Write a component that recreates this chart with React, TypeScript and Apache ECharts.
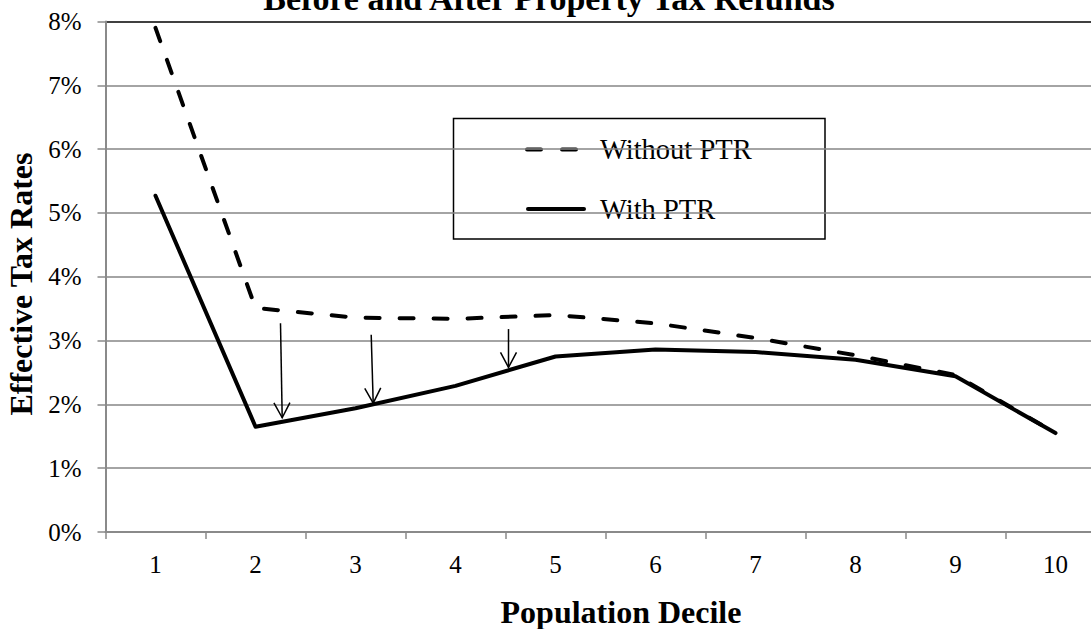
import React, { useEffect, useRef } from "react";
import * as echarts from "echarts";

// Population deciles on the horizontal axis
const deciles = ["1", "2", "3", "4", "5", "6", "7", "8", "9", "10"];

// Effective tax rates (%) per decile
const withoutPTR = [7.9, 3.51, 3.36, 3.34, 3.4, 3.27, 3.04, 2.77, 2.46, 1.55];
const withPTR = [5.27, 1.65, 1.94, 2.29, 2.75, 2.86, 2.82, 2.7, 2.44, 1.55];

// Refund arrows: [xStart, rateStart, xEnd, rateEnd] on a continuous decile scale
const refundArrows = [
  [2.25, 3.27, 2.267, 1.79],
  [3.157, 3.09, 3.177, 2.02],
  [4.53, 3.18, 4.53, 2.58],
];

// Y axis range (percent)
const yMin = 0;
const yMax = 8;
const yStep = 1;

const SERIF = '"Liberation Serif", "Times New Roman", Times, serif';
const GRID_GRAY = "#868686";

export default function App() {
  const ref = useRef<HTMLDivElement>(null);

  useEffect(() => {
    if (!ref.current) return;
    const chart = echarts.init(ref.current, undefined, { renderer: "svg" });

    const splitColors = new Array(9).fill(GRID_GRAY);
    splitColors[8] = "#000";

    chart.setOption({
      animation: false,
      backgroundColor: "#fff",
      textStyle: { fontFamily: SERIF, color: "#000" },
      grid: {
        left: 105.5,
        top: 21.5,
        width: 1000,
        height: 510.5,
        containLabel: false,
        outerBoundsMode: "none",
      },
      xAxis: [
        {
          type: "category",
          data: deciles,
          boundaryGap: true,
          axisLine: { lineStyle: { color: "#8a8a8a", width: 2 } },
          axisTick: { show: true, length: 7, lineStyle: { color: "#8a8a8a", width: 1.5 } },
          axisLabel: { fontFamily: SERIF, fontSize: 25, color: "#000", margin: 20 },
          splitLine: { show: false },
        },
        {
          type: "value",
          min: 0.5,
          max: 10.5,
          show: false,
        },
      ],
      yAxis: {
        type: "value",
        min: yMin,
        max: yMax,
        interval: yStep,
        axisLine: { show: true, lineStyle: { color: "#8a8a8a", width: 2 } },
        axisTick: { show: true, length: 8, lineStyle: { color: "#8a8a8a", width: 1.5 } },
        axisLabel: {
          fontFamily: SERIF,
          fontSize: 25,
          color: "#000",
          margin: 24,
          formatter: "{value}%",
        },
        splitLine: { show: true, lineStyle: { color: splitColors, width: 1.5 } },
      },
      series: [
        {
          name: "Without PTR",
          type: "line",
          data: withoutPTR,
          symbol: "none",
          lineStyle: { color: "#000", width: 4, type: [14, 20], cap: "round", join: "round" },
          z: 3,
        },
        {
          name: "With PTR",
          type: "line",
          data: withPTR,
          symbol: "none",
          lineStyle: { color: "#000", width: 4, type: "solid", cap: "round", join: "round" },
          z: 4,
        },
        {
          name: "Refund",
          type: "custom",
          xAxisIndex: 1,
          data: refundArrows,
          encode: { x: [0, 2], y: [1, 3] },
          z: 5,
          renderItem: (_params: any, api: any) => {
            const p0 = api.coord([api.value(0), api.value(1)]);
            const p1 = api.coord([api.value(2), api.value(3)]);
            const dx = p1[0] - p0[0];
            const dy = p1[1] - p0[1];
            const len = Math.hypot(dx, dy) || 1;
            const ux = dx / len;
            const uy = dy / len;
            const headLen = 15;
            const headHalf = 8;
            const bx = p1[0] - ux * headLen;
            const by = p1[1] - uy * headLen;
            const left = [bx - uy * headHalf, by + ux * headHalf];
            const right = [bx + uy * headHalf, by - ux * headHalf];
            return {
              type: "group",
              children: [
                {
                  type: "line",
                  shape: { x1: p0[0], y1: p0[1], x2: p1[0], y2: p1[1] },
                  style: { stroke: "#000", lineWidth: 1.5 },
                },
                {
                  type: "polyline",
                  shape: { points: [left, p1, right] },
                  style: { stroke: "#000", fill: "none", lineWidth: 1.5 },
                },
              ],
            };
          },
        },
      ],
      graphic: [
        {
          type: "text",
          x: 549,
          y: -1.5,
          z: 100,
          style: {
            text: "Before and After Property Tax Refunds",
            fontFamily: SERIF,
            fontSize: 34,
            fontWeight: "bold",
            fill: "#000",
            align: "center",
            verticalAlign: "middle",
          },
        },
        {
          type: "text",
          x: 621,
          y: 612,
          z: 100,
          style: {
            text: "Population Decile",
            fontFamily: SERIF,
            fontSize: 32,
            fontWeight: "bold",
            fill: "#000",
            align: "center",
            verticalAlign: "middle",
          },
        },
        {
          type: "text",
          x: 21,
          y: 284,
          rotation: Math.PI / 2,
          z: 100,
          style: {
            text: "Effective Tax Rates",
            fontFamily: SERIF,
            fontSize: 32,
            fontWeight: "bold",
            fill: "#000",
            align: "center",
            verticalAlign: "middle",
          },
        },
        // Legend box
        {
          type: "group",
          z: 100,
          children: [
            {
              type: "rect",
              shape: { x: 453.5, y: 118.5, width: 371.5, height: 120.5 },
              style: { fill: "#fff", stroke: "#000", lineWidth: 1.5 },
            },
            {
              type: "line",
              shape: { x1: 527, y1: 149.5, x2: 576, y2: 149.5 },
              style: { stroke: "#000", lineWidth: 4, lineDash: [14, 21], lineCap: "round" },
            },
            {
              type: "text",
              x: 600,
              y: 149.5,
              style: {
                text: "Without PTR",
                fontFamily: SERIF,
                fontSize: 28.5,
                fill: "#000",
                align: "left",
                verticalAlign: "middle",
              },
            },
            {
              type: "line",
              shape: { x1: 528, y1: 209, x2: 584, y2: 209 },
              style: { stroke: "#000", lineWidth: 4, lineCap: "round" },
            },
            {
              type: "text",
              x: 600,
              y: 209,
              style: {
                text: "With PTR",
                fontFamily: SERIF,
                fontSize: 28.5,
                fill: "#000",
                align: "left",
                verticalAlign: "middle",
              },
            },
          ],
        },
      ],
    });

    return () => chart.dispose();
  }, []);

  return (
    <div
      ref={ref}
      style={{ position: "fixed", left: 0, top: 0, width: 1091, height: 629, background: "#fff" }}
    />
  );
}
